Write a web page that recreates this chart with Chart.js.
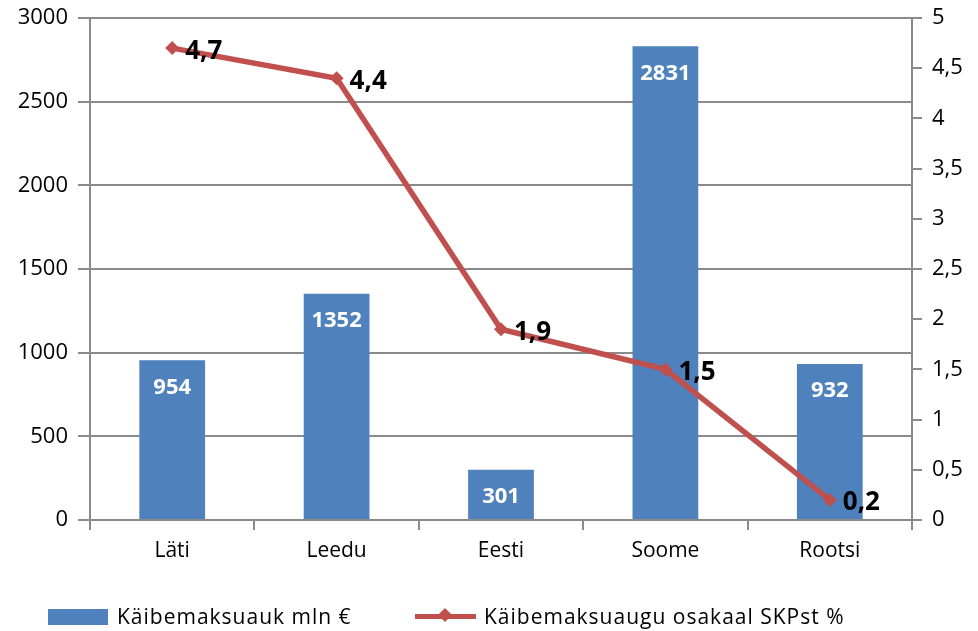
<!DOCTYPE html>
<html>
<head>
<meta charset="utf-8">
<script src="https://cdn.jsdelivr.net/npm/chart.js@4.4.1/dist/chart.umd.min.js"></script>
<style>
  body { margin: 0; background: #fff; font-family: "Open Sans", sans-serif; }
  .wrap { position: relative; width: 978px; height: 631px; }
  .legend { position: absolute; top: 603px; left: 0; width: 978px; height: 26px; font-size: 21px; color: #000; }
  .legend span { position: absolute; white-space: nowrap; letter-spacing: 1px; line-height: 26px; }
  .sw-bar { position: absolute; left: 48px; top: 6px; width: 60px; height: 16px; background: #4F81BD; }
  .sw-line { position: absolute; left: 415px; top: 11px; width: 61px; height: 5px; background: #C0504D; }
  .sw-dia { position: absolute; left: 440px; top: 7px; width: 10px; height: 10px; background: #C0504D; transform: rotate(45deg); }
</style>
</head>
<body>
<div class="wrap">
  <canvas id="c"></canvas>
  <div class="legend">
    <div class="sw-bar"></div>
    <span style="left:117px">Käibemaksuauk mln €</span>
    <div class="sw-line"></div>
    <div class="sw-dia"></div>
    <span style="left:484px">Käibemaksuaugu osakaal SKPst %</span>
  </div>
</div>
<script>
/* Käibemaksuauk: mln € (tulbad) ja osakaal SKPst % (joon) */
const categories = ['Läti', 'Leedu', 'Eesti', 'Soome', 'Rootsi'];
const gapMln = [954, 1352, 301, 2831, 932];
const gapPct = [4.7, 4.4, 1.9, 1.5, 0.2];

const GRID = '#8a8a8a';
const FONT = '"Open Sans", sans-serif';
const comma = v => String(v).replace('.', ',');

/* väärtuste sildid tulpadel ja joonel */
const valueLabels = {
  id: 'valueLabels',
  afterDatasetsDraw(chart) {
    const ctx = chart.ctx;
    ctx.save();
    chart.getDatasetMeta(1).data.forEach((bar, i) => {
      ctx.font = `bold 22px ${FONT}`;
      ctx.fillStyle = '#fff';
      ctx.textAlign = 'center';
      ctx.textBaseline = 'middle';
      ctx.fillText(gapMln[i], bar.x, bar.y + 27);
    });
    chart.getDatasetMeta(0).data.forEach((pt, i) => {
      ctx.font = `bold 26px ${FONT}`;
      ctx.fillStyle = '#000';
      ctx.textAlign = 'left';
      ctx.textBaseline = 'middle';
      ctx.fillText(comma(gapPct[i]), pt.x + 13, pt.y + 3);
    });
    ctx.restore();
  }
};

// telgede laius/kõrgus kinni, et joonise ala klapiks originaaliga
const fixV = w => s => { s.width = w; s.paddingTop = 0; s.paddingBottom = 0; };

new Chart(document.getElementById('c'), {
  data: {
    labels: categories,
    datasets: [
      {
        type: 'line',
        label: 'Käibemaksuaugu osakaal SKPst %',
        data: gapPct,
        yAxisID: 'y1',
        borderColor: '#C0504D',
        backgroundColor: '#C0504D',
        borderWidth: 5.5,
        pointStyle: 'rectRot',
        pointRadius: 7,
        pointBorderWidth: 0,
        tension: 0,
        order: 0
      },
      {
        type: 'bar',
        label: 'Käibemaksuauk mln €',
        data: gapMln,
        yAxisID: 'y',
        backgroundColor: '#4F81BD',
        barPercentage: 0.4,
        categoryPercentage: 1,
        order: 1
      }
    ]
  },
  options: {
    responsive: true,
    maintainAspectRatio: false,
    animation: false,
    layout: { padding: { top: 18, bottom: 66, left: 0, right: 0 } },
    plugins: { legend: { display: false }, tooltip: { enabled: false } },
    scales: {
      x: {
        offset: true,
        grid: { offset: true, drawOnChartArea: false, drawTicks: true, tickLength: 10, color: GRID, lineWidth: 2 },
        border: { color: GRID, width: 2 },
        ticks: { color: '#000', font: { family: FONT, size: 21 }, padding: 8 },
        afterFit: s => { s.height = 45; s.paddingLeft = 0; s.paddingRight = 0; }
      },
      y: {
        position: 'left',
        min: 0, max: 3000,
        ticks: { stepSize: 500, color: '#000', font: { family: FONT, size: 22 }, padding: 10, callback: v => String(v) },
        grid: { color: GRID, lineWidth: 2, tickLength: 12 },
        border: { color: GRID, width: 2 },
        afterFit: fixV(90)
      },
      y1: {
        position: 'right',
        min: 0, max: 5,
        ticks: { stepSize: 0.5, color: '#000', font: { family: FONT, size: 22 }, padding: 10, callback: v => comma(v) },
        grid: { drawOnChartArea: false, color: GRID, lineWidth: 2, tickLength: 10 },
        border: { color: GRID, width: 2 },
        afterFit: fixV(66)
      }
    }
  },
  plugins: [valueLabels]
});
</script>
</body>
</html>
